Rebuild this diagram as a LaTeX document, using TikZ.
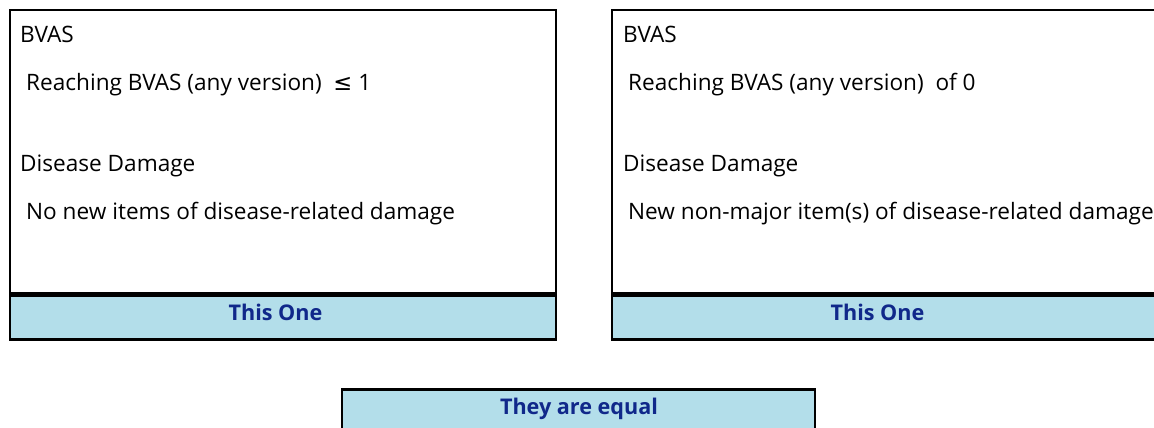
\documentclass[tikz,border=0pt]{standalone}
\usepackage{fontspec}
\setmainfont{Open Sans}
\newfontfamily\symfont{DejaVu Sans}
\usetikzlibrary{positioning}
\definecolor{stripblue}{HTML}{B3DEEA}
\definecolor{navytext}{HTML}{10288A}

\begin{document}
\begin{tikzpicture}[x=1pt, y=-1pt,
          panel/.style={draw=black, line width=2.6pt, fill=white, minimum width=546pt, minimum height=283pt, inner sep=0pt},
          strip/.style={draw=black, line width=2.6pt, fill=stripblue, minimum width=546pt, minimum height=44pt, inner sep=0pt},
          label/.style={anchor=base, inner sep=0pt, text=navytext, font=\fontsize{21.6}{26}\selectfont\bfseries},
          head/.style={anchor=base west, inner sep=0pt, font=\fontsize{22.6}{27}\selectfont},
          item/.style={head}]
        \useasboundingbox (0,0) rectangle (1154,428);
        \clip (0,0) rectangle (1154,428);
        % left panel
        \node[panel] (lp) at (283,151.5) {};
        \node[strip, anchor=north] (ls) at (lp.south) {};
        \node[label] (lt) at (275.5,320) {This One};
        \node[head] (lh1) at (20,43) {BVAS};
        \node[item] (li1) at (26,91) {Reaching BVAS (any version)\ \ {\symfont ≤}\ 1};
        \node[head] (lh2) at (20,171) {Disease Damage};
        \node[item] (li2) at (26,219) {No new items of disease-related damage};
        % right panel
        \node[panel] (rp) at (885,151.5) {};
        \node[strip, anchor=north] (rs) at (rp.south) {};
        \node[label] (rt) at (877.5,320) {This One};
        \node[head] (rh1) at (623,43) {BVAS};
        \node[item] (ri1) at (628,91) {Reaching BVAS (any version)\ \ of 0};
        \node[head] (rh2) at (623,171) {Disease Damage};
        \node[item] (ri2) at (628,219) {New non-major item(s) of disease-related damage};
        % verdict
        \node[strip, minimum width=473pt, anchor=north] (eq) at (578.5,388) {};
        \node[label] (eqt) at (579,414) {They are equal};
      \end{tikzpicture}
\end{document}
